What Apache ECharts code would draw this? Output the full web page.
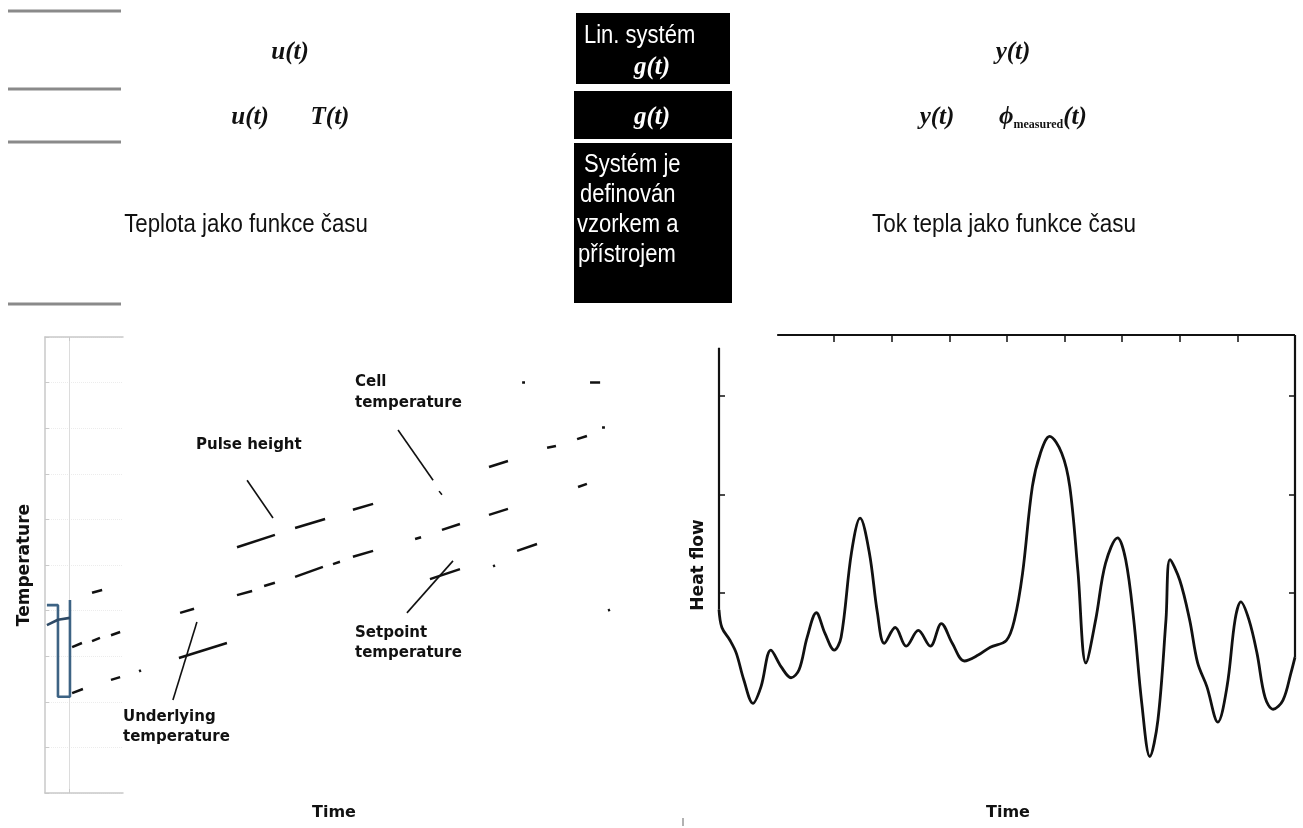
<!DOCTYPE html>
<html>
<head>
<meta charset="utf-8">
<title>Teplota a tok tepla</title>
<script src="https://cdn.jsdelivr.net/npm/echarts@6/dist/echarts.min.js"></script>
<style>
html, body { margin:0; padding:0; background:#fff; }
#chart { width:1303px; height:828px; }
</style>
</head>
<body>
<div id="chart"></div>
<script>
// ---- left chart: temperature vs time (dash pieces as [x0, y0, x1, y1]) ----
var topDashes = [
	[1.96,4.39,2.38,4.45], [8.00,5.39,9.58,5.66], [10.42,5.81,11.67,6.01],
	[12.83,6.21,13.67,6.34], [18.50,7.15,19.29,7.28], [20.92,7.57,21.29,7.61],
	[22.17,7.76,22.58,7.83], [23.21,8.03,23.33,8.03]
];
var midDashes = [
	[1.13,3.20,1.54,3.29], [1.96,3.33,2.29,3.40], [2.75,3.46,3.13,3.53],
	[5.63,3.95,6.21,4.04], [8.00,4.34,8.63,4.43], [9.13,4.54,9.58,4.61],
	[10.42,4.74,11.58,4.96], [12.00,5.02,12.29,5.07], [12.83,5.18,13.67,5.31],
	[15.42,5.57,15.67,5.61], [16.54,5.77,17.29,5.90], [18.50,6.10,19.29,6.23],
	[22.21,6.71,22.58,6.78]
];
var lowDashes = [
	[1.13,2.19,1.58,2.28], [2.75,2.48,3.13,2.54], [3.92,2.67,4.00,2.69],
	[5.58,2.96,7.58,3.29], [16.04,4.69,17.29,4.91], [18.67,4.97,18.75,4.99],
	[19.67,5.31,20.50,5.46], [23.46,4.00,23.54,4.02]
];
var strayDashes = [[19.88,9.01,20.00,9.01], [22.71,9.01,23.13,9.01]];
// leader lines of the annotations
var leaderLines = [
	[8.42,6.86,9.50,6.03],     // Pulse height
	[14.71,7.96,16.17,6.86],   // Cell temperature
	[16.42,6.62,16.54,6.54],
	[15.08,3.95,17.00,5.09],   // Setpoint temperature
	[5.33,2.04,6.33,3.75]      // Underlying temperature
];
// blue measured trace at the start
var pulseTrace = [[0.08,4.12],[0.54,4.12],[0.54,2.11],[1.04,2.11],[1.04,4.23]];
var pulseMean = [[0.08,3.68],[0.54,3.80],[1.04,3.84]];

// ---- right chart: heat flow vs time ----
var heatTime = [0,0.05,0.19,0.30,0.43,0.59,0.73,0.90,1.08,1.25,1.39,1.53,1.69,1.84,2.00,2.12,2.30,2.45,2.61,2.75,
	2.87,3.06,3.25,3.46,3.67,3.86,4.05,4.26,4.50,4.71,4.99,5.13,5.27,5.44,5.58,5.74,5.95,6.09,6.23,6.37,
	6.54,6.71,6.92,7.06,7.20,7.34,7.48,7.62,7.76,7.83,8.00,8.17,8.31,8.47,8.66,8.82,8.96,9.06,9.20,9.34,
	9.48,9.62,9.79,9.93,10.0];
var heatFlow = [0.83,0.65,0.52,0.39,0.12,-0.12,0.05,0.42,0.25,0.14,0.22,0.55,0.80,0.59,0.42,0.55,1.41,1.76,1.41,0.80,
	0.49,0.65,0.46,0.62,0.46,0.69,0.49,0.31,0.37,0.45,0.52,0.73,1.20,2.08,2.42,2.59,2.42,2.08,1.23,0.29,
	0.73,1.30,1.56,1.34,0.73,-0.12,-0.66,-0.29,0.73,1.34,1.13,0.73,0.29,0.05,-0.31,0.05,0.73,0.91,0.73,0.39,
	-0.06,-0.18,-0.09,0.19,0.35];
var heatTopBorder = [[1.01,3.62],[10,3.62]];
var heatLeftBorder = [[0,3.49],[0,0.83]];
var heatRightBorder = [[10,3.62],[10,0.35]];
var timeTicks = [2,3,4,5,6,7,8,9];
var heatTicks = [1,2,3];

var SANS = "'DejaVu Sans'";
var PLAIN = "'Liberation Sans'";
var SERIF = "'Liberation Serif'";

function toLines(list) {
	var out = [];
	for (var i = 0; i < list.length; i++) {
		out.push({ coords: [[list[i][0], list[i][1]], [list[i][2], list[i][3]]] });
	}
	return out;
}

// text helper, sx squeezes the glyphs (reference uses a condensed face)
function lineText(x, y, txt, font, fill, align, sx) {
	return { type: 'text', x: x, y: y, z: 10, scaleX: sx || 1,
		style: { text: txt, font: font, fill: fill || '#111', align: align || 'center', verticalAlign: 'middle' } };
}

var myChart = echarts.init(document.getElementById('chart'), null, { renderer: 'canvas' });

var grayAxis = { show: true, lineStyle: { color: '#c9c9c9', width: 1.5 } };
var boxFont = '25px ' + PLAIN;
var mathFont = 'italic bold 25px ' + SERIF;

var option = {
	backgroundColor: '#ffffff',
	animation: false,
	grid: [
		{ left: 45, top: 337, width: 78, height: 456 },
		{ left: 719, right: 8, top: 335, bottom: 38 }
	],
	xAxis: [
		{ gridIndex: 0, type: 'value', min: 0, max: 3.25, position: 'bottom', axisLine: grayAxis,
		  axisTick: { inside: true, length: 4, lineStyle: { color: '#c9c9c9' }, customValues: [1] },
		  axisLabel: { show: false },
		  splitLine: { show: true, lineStyle: { color: '#dcdcdc', width: 1 } } },
		{ gridIndex: 0, type: 'value', min: 0, max: 3.25, position: 'top', axisLine: grayAxis,
		  axisTick: { inside: true, length: 4, lineStyle: { color: '#c9c9c9' }, customValues: [1] },
		  axisLabel: { show: false }, splitLine: { show: false } },
		{ gridIndex: 1, type: 'value', min: 0, max: 10, position: 'top',
		  axisLine: { show: false, onZero: false },
		  axisTick: { inside: true, length: 7, lineStyle: { color: '#111', width: 1.5 }, customValues: timeTicks },
		  axisLabel: { show: false }, splitLine: { show: false } }
	],
	yAxis: [
		{ gridIndex: 0, type: 'value', min: 0, max: 10, interval: 1, axisLine: grayAxis,
		  axisTick: { inside: true, length: 4, lineStyle: { color: '#c9c9c9' } },
		  axisLabel: { show: false },
		  splitLine: { show: true, lineStyle: { color: '#ececec', width: 1, type: 'dotted' } } },
		{ gridIndex: 1, type: 'value', min: -1, max: 3.62, position: 'left',
		  axisLine: { show: false, onZero: false },
		  axisTick: { inside: true, length: 6, lineStyle: { color: '#111', width: 1.5 }, customValues: heatTicks },
		  axisLabel: { show: false }, splitLine: { show: false } },
		{ gridIndex: 1, type: 'value', min: -1, max: 3.62, position: 'right',
		  axisLine: { show: false, onZero: false },
		  axisTick: { inside: true, length: 6, lineStyle: { color: '#111', width: 1.5 }, customValues: heatTicks },
		  axisLabel: { show: false }, splitLine: { show: false } }
	],
	series: [
		{ type: 'lines', coordinateSystem: 'cartesian2d', xAxisIndex: 0, yAxisIndex: 0, clip: false,
		  data: toLines(topDashes.concat(midDashes, lowDashes, strayDashes)),
		  lineStyle: { color: '#111', width: 2.5, opacity: 1 } },
		{ type: 'lines', coordinateSystem: 'cartesian2d', xAxisIndex: 0, yAxisIndex: 0, clip: false,
		  data: toLines(leaderLines),
		  lineStyle: { color: '#111', width: 1.6, opacity: 1 } },
		{ type: 'line', xAxisIndex: 0, yAxisIndex: 0, data: pulseTrace, symbol: 'none', clip: false,
		  lineStyle: { color: '#3d6384', width: 2.6 } },
		{ type: 'line', xAxisIndex: 0, yAxisIndex: 0, data: pulseMean, symbol: 'none', clip: false,
		  lineStyle: { color: '#2e4a66', width: 2.6 } },
		{ type: 'line', xAxisIndex: 2, yAxisIndex: 1, symbol: 'none', smooth: 0.35, clip: false,
		  data: heatTime.map(function (t, i) { return [t, heatFlow[i]]; }),
		  lineStyle: { color: '#111', width: 2.8 } },
		{ type: 'line', xAxisIndex: 2, yAxisIndex: 1, symbol: 'none', clip: false, data: heatTopBorder,
		  lineStyle: { color: '#111', width: 2.2 } },
		{ type: 'line', xAxisIndex: 2, yAxisIndex: 1, symbol: 'none', clip: false, data: heatLeftBorder,
		  lineStyle: { color: '#111', width: 2.2 } },
		{ type: 'line', xAxisIndex: 2, yAxisIndex: 1, symbol: 'none', clip: false, data: heatRightBorder,
		  lineStyle: { color: '#111', width: 2.2 } }
	],
	graphic: [
		// gray rules on the left edge
		{ type: 'line', shape: { x1: 8, y1: 11, x2: 121, y2: 11 }, style: { stroke: '#8a8a8a', lineWidth: 3 } },
		{ type: 'line', shape: { x1: 8, y1: 89, x2: 121, y2: 89 }, style: { stroke: '#8a8a8a', lineWidth: 3 } },
		{ type: 'line', shape: { x1: 8, y1: 142, x2: 121, y2: 142 }, style: { stroke: '#8a8a8a', lineWidth: 3 } },
		{ type: 'line', shape: { x1: 8, y1: 304, x2: 121, y2: 304 }, style: { stroke: '#8a8a8a', lineWidth: 3 } },
		// black boxes
		{ type: 'rect', shape: { x: 576, y: 13, width: 154, height: 71 }, style: { fill: '#000' } },
		{ type: 'rect', shape: { x: 574, y: 91, width: 158, height: 48 }, style: { fill: '#000' } },
		{ type: 'rect', shape: { x: 574, y: 143, width: 158, height: 160 }, style: { fill: '#000' } },
		lineText(584, 36, 'Lin. systém', boxFont, '#fff', 'left', 0.88),
		lineText(652, 68, 'g(t)', mathFont, '#fff'),
		lineText(652, 118, 'g(t)', mathFont, '#fff'),
		lineText(584, 165, 'Systém je', boxFont, '#fff', 'left', 0.88),
		lineText(580, 195, 'definován', boxFont, '#fff', 'left', 0.88),
		lineText(577, 225, 'vzorkem a', boxFont, '#fff', 'left', 0.88),
		lineText(578, 255, 'přístrojem', boxFont, '#fff', 'left', 0.88),
		// formulas
		lineText(290, 53, 'u(t)', mathFont),
		lineText(250, 118, 'u(t)', mathFont),
		lineText(330, 118, 'T(t)', mathFont),
		lineText(1013, 53, 'y(t)', mathFont),
		lineText(937, 118, 'y(t)', mathFont),
		{ type: 'text', x: 999, y: 118, z: 10,
		  style: { text: '{p|ϕ}{s|measured}{p|(t)}', align: 'left', verticalAlign: 'middle', fill: '#111',
			rich: {
				p: { font: mathFont, fill: '#111' },
				s: { font: 'bold 12px ' + SERIF, fill: '#111', verticalAlign: 'bottom', padding: [10, 0, 0, 0] }
			} } },
		lineText(246, 225, 'Teplota jako funkce času', boxFont, '#111', 'center', 0.89),
		lineText(1004, 225, 'Tok tepla jako funkce času', boxFont, '#111', 'center', 0.9),
		// axis names
		{ type: 'text', x: 25, y: 565, rotation: Math.PI / 2, z: 10,
		  style: { text: 'Temperature', font: 'bold 17px ' + SANS, fill: '#111', align: 'center', verticalAlign: 'middle' } },
		{ type: 'text', x: 699, y: 565, rotation: Math.PI / 2, z: 10,
		  style: { text: 'Heat flow', font: 'bold 17px ' + SANS, fill: '#111', align: 'center', verticalAlign: 'middle' } },
		lineText(334, 813, 'Time', 'bold 16px ' + SANS),
		lineText(1008, 813, 'Time', 'bold 16px ' + SANS),
		// annotations
		lineText(196, 445, 'Pulse height', 'bold 15px ' + SANS, '#111', 'left'),
		lineText(355, 382, 'Cell', 'bold 15px ' + SANS, '#111', 'left'),
		lineText(355, 403, 'temperature', 'bold 15px ' + SANS, '#111', 'left'),
		lineText(355, 633, 'Setpoint', 'bold 15px ' + SANS, '#111', 'left'),
		lineText(355, 653, 'temperature', 'bold 15px ' + SANS, '#111', 'left'),
		lineText(123, 717, 'Underlying', 'bold 15px ' + SANS, '#111', 'left'),
		lineText(123, 737, 'temperature', 'bold 15px ' + SANS, '#111', 'left'),
		{ type: 'line', shape: { x1: 683, y1: 818, x2: 683, y2: 826 }, style: { stroke: '#999', lineWidth: 1.5 } }
	]
};
myChart.setOption(option);
</script>
</body>
</html>
